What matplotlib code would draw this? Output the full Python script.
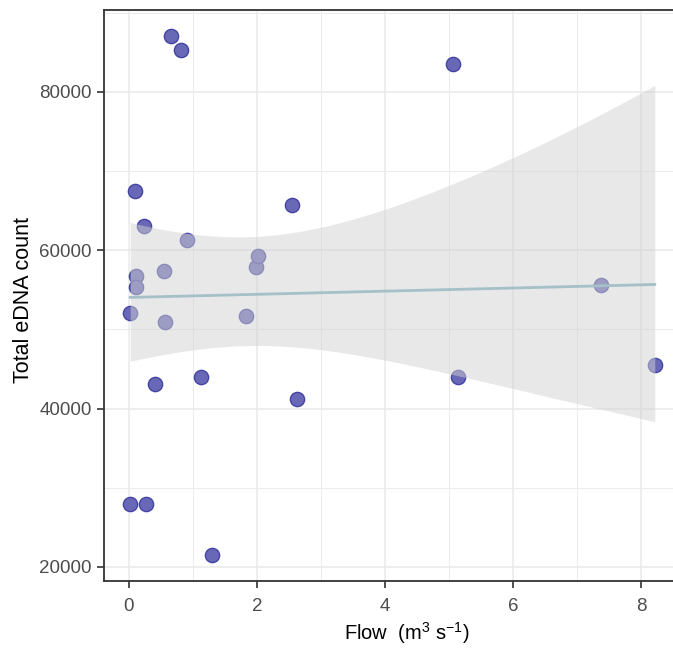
import matplotlib
matplotlib.use("Agg")
import matplotlib.pyplot as plt
from matplotlib.ticker import MultipleLocator
import numpy as np

plt.rcParams["font.family"] = ["Liberation Sans", "DejaVu Sans"]
plt.rcParams["mathtext.fontset"] = "custom"
plt.rcParams["mathtext.rm"] = "Liberation Sans"
plt.rcParams["mathtext.it"] = "Liberation Sans:italic"

# flow (m3/s) and total eDNA counts per sample
flow = [0.66, 0.82, 0.09, 0.24, 0.90, 0.11, 0.11, 0.02, 0.54, 0.57,
        0.02, 0.27, 0.40, 1.13, 1.29, 1.82, 1.99, 2.02, 2.54, 2.63,
        5.06, 5.14, 7.37, 8.21]
edna = [87060, 85300, 67500, 63100, 61300, 56800, 55400, 52100, 57400, 50900,
        27900, 27900, 43050, 43930, 21490, 51630, 57930, 59320, 65750, 41160,
        83530, 43930, 55540, 45450]

x_ticks = [0, 2, 4, 6, 8]
y_ticks = [20000, 40000, 60000, 80000]

x = np.array(flow)
y = np.array(edna, dtype=float)

# quasi-poisson glm (log link) fitted by IRLS, 95% band on the link scale
X = np.column_stack([np.ones_like(x), x])
beta = np.array([np.log(y.mean()), 0.0])
for _ in range(50):
    eta = X @ beta
    mu = np.exp(eta)
    z = eta + (y - mu) / mu
    W = mu
    beta = np.linalg.solve(X.T @ (W[:, None] * X), X.T @ (W * z))
mu = np.exp(X @ beta)
n = len(x)
phi = np.sum((y - mu) ** 2 / mu) / (n - 2)
cov = phi * np.linalg.inv(X.T @ (mu[:, None] * X))

xs = np.linspace(x.min(), x.max(), 200)
Xs = np.column_stack([np.ones_like(xs), xs])
eta_s = Xs @ beta
se = np.sqrt(np.einsum("ij,jk,ik->i", Xs, cov, Xs))
z975 = 1.959964
ys = np.exp(eta_s)
lo, hi = np.exp(eta_s - z975 * se), np.exp(eta_s + z975 * se)

fig = plt.figure(figsize=(6.73, 6.48), dpi=100)
ax = fig.add_axes([104 / 673, 1 - 581 / 648, 577 / 673, 571 / 648])

ax.scatter(x, y, s=105, color="#6868b6", edgecolor="#4444a4", linewidth=1.0, zorder=3)
ax.fill_between(xs, lo, hi, color="#d2d2d2", alpha=0.5, linewidth=0, zorder=4)
ax.plot(xs, ys, color="#a5c0c8", linewidth=2.0, zorder=5)

xr = x.max() - x.min()
yr = y.max() - y.min()
ax.set_xlim(x.min() - 0.05 * xr, x.max() + 0.05 * xr)
ax.set_ylim(y.min() - 0.05 * yr, y.max() + 0.05 * yr)

ax.set_xticks(x_ticks)
ax.set_yticks(y_ticks)
ax.set_yticklabels([str(v) for v in y_ticks])
ax.xaxis.set_minor_locator(MultipleLocator(1))
ax.yaxis.set_minor_locator(MultipleLocator(10000))
ax.grid(which="major", color="#ebebeb", linewidth=1.2, zorder=0)
ax.grid(which="minor", color="#ebebeb", linewidth=0.7, zorder=0)
ax.set_axisbelow(True)

ax.tick_params(which="major", length=5, width=1.2, color="#333333",
               labelsize=13.5, labelcolor="#4d4d4d", pad=4)
ax.tick_params(axis="x", which="major", pad=7)
ax.tick_params(which="minor", length=0)
for sp in ax.spines.values():
    sp.set_color("#333333")
    sp.set_linewidth(1.3)

fig.text(24 / 673, 1 - 300 / 648, "Total eDNA count", fontsize=15.5,
         rotation=90, ha="center", va="center")
fig.text(407 / 673, 1 - 633 / 648, r"Flow  (m$^{3}$ s$^{-1}$)",
         fontsize=14.5, ha="center", va="center")

fig.savefig("out.png", dpi=100)
